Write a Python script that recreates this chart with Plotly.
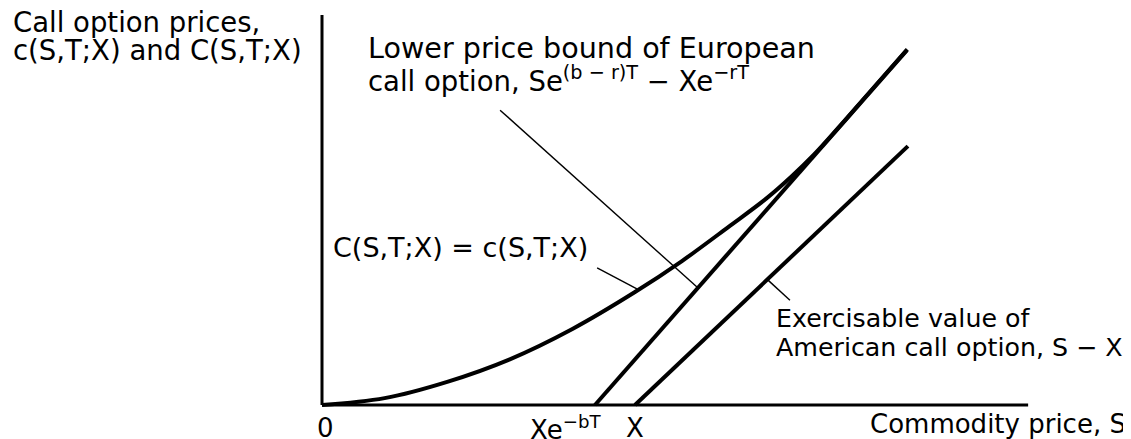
import plotly.graph_objects as go

# ---- data ----
S_curve = [0, 20, 40, 60, 80, 100, 115, 130, 142, 150, 157, 165, 175, 187]
C_curve = [0, 2.2, 7.4, 14.6, 24.3, 36.1, 46.0, 57.0, 66.0, 73.0, 79.8, 88.6, 100.0, 113.6]

lower_S = [87.2, 186.9]      # Se^{(b-r)T} - Xe^{-rT}, starts at Xe^{-bT}
lower_V = [0, 113.4]
exer_S = [100, 187.2]        # S - X, starts at X
exer_V = [0, 82.7]

axis_x_end = 225.6
axis_y_end = 124.6

leader1 = ([56.9, 119.8], [94.2, 37.7])
leader2 = ([87.9, 100.6], [43.8, 37.1])
leader3 = ([142.5, 149.5], [39.9, 33.5])

tick_pos = [0, 87.2, 100]
tick_txt = ["0", "Xe<sup>−bT</sup>", "X"]
tick_shift = [3, -29, 0]

# ---- layout helpers ----
# the page body has an 8px margin, so the figure is drawn 8px in from the top-left
W, H = 1123, 431
ox, oy, k = 314, 397, 3.13   # origin pixel (figure coords) and px per unit
xr = [-ox / k, (W - ox) / k]
yr = [(oy - H) / k, oy / k]

FONT = "DejaVu Sans"

fig = go.Figure()
thick = dict(color="black", width=4)
fig.add_trace(go.Scatter(x=[0, 0], y=[axis_y_end, 0], mode="lines",
                         line=dict(color="black", width=3)))
fig.add_trace(go.Scatter(x=[0, axis_x_end], y=[0, 0], mode="lines",
                         line=dict(color="black", width=3)))
fig.add_trace(go.Scatter(x=S_curve, y=C_curve, mode="lines",
                         line=dict(color="black", width=4, shape="spline", smoothing=1.0)))
fig.add_trace(go.Scatter(x=lower_S, y=lower_V, mode="lines", line=thick))
fig.add_trace(go.Scatter(x=exer_S, y=exer_V, mode="lines", line=thick))
for lx, ly in (leader1, leader2, leader3):
    fig.add_trace(go.Scatter(x=lx, y=ly, mode="lines",
                             line=dict(color="black", width=1.4)))


def px(xp, yp):
    return xp / W, 1 - yp / H


def label(text, xp, yp, size, xanchor="left"):
    x, y = px(xp, yp)
    fig.add_annotation(text=text, x=x, y=y, xref="paper", yref="paper",
                       xanchor=xanchor, yanchor="middle", showarrow=False,
                       font=dict(family=FONT, size=size, color="black"))


label("Call option prices,", 3, 14, 27.5)
label("c(S,T;X) and C(S,T;X)", 3, 42, 27.5)
label("Lower price bound of European", 358, 40, 28.6)
label("call option, Se<sup>(b − r)T</sup> − Xe<sup>−rT</sup>", 358, 71, 27.5)
label("C(S,T;X) = c(S,T;X)", 323, 239, 27)
label("Exercisable value of", 766, 310, 25.3)
label("American call option, S − X", 766, 339, 25.3)
label("Commodity price, S", 1120, 416, 26, xanchor="right")

for p, t, s in zip(tick_pos, tick_txt, tick_shift):
    fig.add_annotation(text=t, x=p, y=(oy - 420) / k, xref="x", yref="y",
                       xanchor="center", yanchor="middle", showarrow=False, xshift=s,
                       font=dict(family=FONT, size=26, color="black"))

fig.update_layout(
    width=W, height=H, margin=dict(l=0, r=0, t=0, b=0),
    paper_bgcolor="white", plot_bgcolor="white", showlegend=False,
    xaxis=dict(range=xr, visible=False, fixedrange=True),
    yaxis=dict(range=yr, visible=False, fixedrange=True),
)
fig.write_html("out.html")
